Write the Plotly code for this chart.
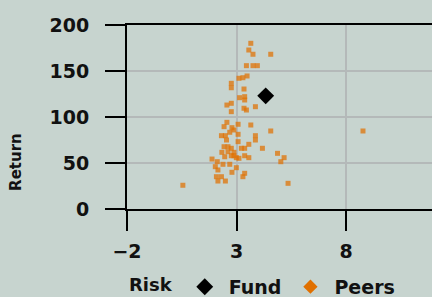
import plotly.graph_objects as go

fund_risk = [4.33]
fund_return = [123]

peer_risk = [3.65, 3.56, 3.75, 4.56, 3.45, 3.75, 3.95, 3.11, 3.29, 3.48,
             2.76, 2.76, 3.34, 3.14, 3.37, 3.37, 2.76, 2.56, 3.34, 3.45,
             3.86, 2.76, 2.56, 2.43, 2.79, 2.88, 3.07, 3.65, 4.56, 2.69,
             3.07, 2.31, 2.49, 2.54, 3.86, 3.86, 3.07, 3.56, 2.43, 2.61,
             2.76, 3.22, 3.37, 4.18, 2.33, 2.61, 2.88, 2.46, 2.76, 2.88,
             2.99, 3.11, 3.37, 3.56, 4.87, 5.17, 5.02, 1.88, 2.12, 2.38,
             2.69, 2.03, 2.15, 2.99, 2.79, 3.37, 3.29, 2.08, 2.31, 2.15,
             2.49, 5.35, 0.55, 8.77]
peer_return = [180.1, 172.8, 168.2, 168.2, 155.8, 155.8, 155.8, 142.1, 142.7, 144.6,
               136.6, 131.8, 130.4, 121.0, 122.1, 118.5, 114.9, 113.0, 109.5, 107.6,
               111.2, 105.8, 94.2, 89.5, 88.4, 85.9, 92.1, 91.3, 84.8, 83.4,
               81.2, 79.7, 79.7, 75.0, 79.7, 75.0, 73.2, 70.3, 67.7, 67.7,
               66.0, 66.0, 66.0, 66.0, 61.6, 62.3, 61.6, 56.8, 57.9, 57.9,
               55.8, 55.1, 57.9, 55.8, 60.5, 55.8, 51.4, 54.3, 51.4, 48.6,
               48.6, 46.0, 42.4, 44.9, 39.9, 38.8, 35.1, 35.1, 35.1, 30.4,
               30.4, 27.9, 25.8, 84.8]

x_ticks = [-2, 3, 8]
y_ticks = [0, 50, 100, 150, 200]

BG = "#c7d4cf"
ORANGE = "#e07000"
FONT = "DejaVu Sans"

fig = go.Figure()
fig.add_trace(go.Scatter(
    x=peer_risk, y=peer_return, mode="markers", name="Peers", showlegend=False,
    marker=dict(symbol="square", size=5, color=ORANGE, opacity=0.72),
))
fig.add_trace(go.Scatter(
    x=fund_risk, y=fund_return, mode="markers", name="Fund",
    marker=dict(symbol="diamond", size=13, color="black"),
))
fig.add_trace(go.Scatter(
    x=[None], y=[None], mode="markers", name="Peers",
    marker=dict(symbol="diamond", size=11, color=ORANGE),
))

axis_common = dict(
    showline=True, linecolor="black", linewidth=2,
    ticks="outside", ticklen=20, tickwidth=2, tickcolor="black",
    showgrid=True, gridcolor="#b4b9b9", gridwidth=2,
    zeroline=False, automargin=False,
    tickfont=dict(family=FONT, size=19, color="#111111", weight="bold"),
)

fig.update_layout(
    width=432, height=297,
    margin=dict(l=127, r=0, t=25, b=88, autoexpand=False),
    paper_bgcolor=BG, plot_bgcolor=BG,
    font=dict(family=FONT, size=18, color="#111111", weight="bold"),
    xaxis=dict(range=[-2, 11.92], tickvals=x_ticks, mirror=True,
               ticklabelstandoff=4, **axis_common),
    yaxis=dict(range=[0, 200], tickvals=y_ticks, ticklabelstandoff=12, **axis_common),
    legend=dict(
        orientation="h", x=0.0, xanchor="left", y=-0.423, yanchor="middle",
        itemwidth=38,
        title=dict(text="Risk", side="left", font=dict(family=FONT, size=18, weight="bold")),
        font=dict(family=FONT, size=19, color="#111111", weight="bold"),
        bgcolor="rgba(0,0,0,0)",
    ),
    annotations=[dict(
        text="Return", xref="paper", yref="paper", x=-0.366, y=0.258,
        xanchor="center", yanchor="middle", textangle=-90, showarrow=False,
        font=dict(family=FONT, size=15, color="#111111", weight="bold"),
    )],
)

fig.write_html(
    "out.html",
    config={"displayModeBar": False},
    post_script="document.body.style.margin='0';document.body.style.background='" + BG + "';",
)
